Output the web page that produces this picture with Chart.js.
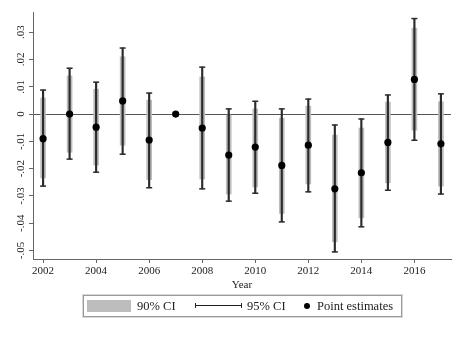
<!DOCTYPE html>
<html lang="en">
<head>
  <meta charset="UTF-8">
  <title>Event study estimates</title>
  <script src="https://cdn.jsdelivr.net/npm/chart.js"></script>
  <style>
    body {
      margin: 0;
      background: #fff;
      font-family: 'Liberation Serif', 'Times New Roman', serif;
    }

    .wrap {
      position: relative;
      width: 463px;
      height: 337px;
    }

    .legend-box {
      position: absolute;
      left: 83px;
      top: 295px;
      width: 317px;
      height: 20px;
      border: 1px solid #9a9a9a;
      box-shadow: 0 0 0 1px #d8d8d8;
    }

    .lg {
      position: absolute;
      font-size: 12.5px;
      color: #222;
      line-height: 14px;
    }
  </style>
</head>
<body>
  <div class="wrap">
    <canvas id="ciChart"></canvas>
    <div class="legend-box"></div>
    <div class="lg" style="left:87px;top:300px;width:44px;height:12px;background:#bdbdbd;"></div>
    <div class="lg" style="left:137px;top:299px;">90% CI</div>
    <div class="lg" style="left:195px;top:303px;width:47px;height:5px;border-left:1px solid #222;border-right:1px solid #222;box-sizing:border-box;">
      <div style="margin-top:2px;height:1px;background:#222;"></div>
    </div>
    <div class="lg" style="left:247px;top:299px;">95% CI</div>
    <div class="lg" style="left:304px;top:303px;width:6px;height:6px;border-radius:50%;background:#000;"></div>
    <div class="lg" style="left:317px;top:299px;">Point estimates</div>
  </div>

  <script>
    // values (2007 is the omitted base year)
    const years = [2002, 2003, 2004, 2005, 2006, 2007, 2008, 2009, 2010, 2011, 2012, 2013, 2014, 2015, 2016, 2017];
    const estimates = [-0.009, 0, -0.0048, 0.0048, -0.0095, 0, -0.0051, -0.015, -0.0121, -0.0188, -0.0114, -0.0274, -0.0215, -0.0104, 0.0127, -0.0109];
    const ci95Low = [-0.0264, -0.0165, -0.0213, -0.0147, -0.027, null, -0.0274, -0.0319, -0.029, -0.0395, -0.0285, -0.0505, -0.0413, -0.0279, -0.0096, -0.0293];
    const ci95High = [0.0088, 0.0168, 0.0117, 0.0242, 0.0077, null, 0.0172, 0.0019, 0.0047, 0.0019, 0.0055, -0.004, -0.0018, 0.007, 0.035, 0.0074];
    const ci90Low = [-0.0234, -0.014, -0.0187, -0.0114, -0.024, null, -0.0238, -0.0293, -0.0267, -0.0364, -0.0256, -0.0468, -0.038, -0.0252, -0.0059, -0.0264];
    const ci90High = [0.0059, 0.014, 0.0091, 0.021, 0.0051, null, 0.0136, -0.0004, 0.0019, -0.0015, 0.0029, -0.0077, -0.0051, 0.0044, 0.0315, 0.0045];

    const xTicks = [2002, 2004, 2006, 2008, 2010, 2012, 2014, 2016];
    const yTicks = [0.03, 0.02, 0.01, 0, -0.01, -0.02, -0.03, -0.04, -0.05];

    const hasCI = (i) => ci95Low[i] !== null;

    const band90 = years.map((x, i) => hasCI(i) ? { x: x, y: [ci90Low[i], ci90High[i]] } : null).filter(Boolean);
    const band95 = years.map((x, i) => hasCI(i) ? { x: x, y: [ci95Low[i], ci95High[i]] } : null).filter(Boolean);
    const caps95 = [];
    years.forEach((x, i) => {
      if (hasCI(i)) {
        caps95.push({ x: x, y: ci95Low[i] });
        caps95.push({ x: x, y: ci95High[i] });
      }
    });
    const points = years.map((x, i) => ({ x: x, y: estimates[i] }));

    // Stata-style labels: .03, -.01, 0
    const fmt = (v) => {
      if (Math.abs(v) < 1e-9) return '0';
      return v.toFixed(2).replace('0.', '.');
    };

    const axisGrey = '#666';
    const font = { family: "'Liberation Serif', 'Times New Roman', serif", size: 11 };

    const config = {
      type: 'bar',
      data: {
        datasets: [
          {
            label: '90% CI',
            data: band90,
            backgroundColor: '#bdbdbd',
            barThickness: 5,
            grouped: false,
            borderWidth: 0,
            order: 4
          },
          {
            label: '95% CI',
            data: band95,
            backgroundColor: '#2b2b2b',
            barThickness: 1.5,
            grouped: false,
            borderWidth: 0,
            order: 3
          },
          {
            type: 'scatter',
            label: 'caps',
            data: caps95,
            pointStyle: 'line',
            pointRadius: 3,
            borderColor: '#2b2b2b',
            borderWidth: 1.5,
            order: 2
          },
          {
            type: 'scatter',
            label: 'Point estimates',
            data: points,
            pointRadius: 3.6,
            backgroundColor: '#000',
            borderColor: '#000',
            borderWidth: 0,
            order: 1
          }
        ]
      },
      options: {
        responsive: true,
        maintainAspectRatio: false,
        animation: false,
        layout: { padding: { top: 12, right: 12, left: 0, bottom: 45 } },
        plugins: {
          legend: { display: false },
          tooltip: { enabled: false }
        },
        scales: {
          x: {
            type: 'linear',
            min: 2001.62,
            max: 2017.38,
            offset: false,
            afterBuildTicks: (scale) => { scale.ticks = xTicks.map(v => ({ value: v })); },
            afterFit: (scale) => { scale.height = 33; },
            grid: {
              offset: false,
              drawOnChartArea: false,
              tickLength: 4,
              tickColor: axisGrey
            },
            border: { color: axisGrey, width: 1 },
            ticks: {
              color: '#222',
              font: font,
              padding: 2,
              maxRotation: 0,
              autoSkip: false,
              callback: (v) => String(v)
            },
            title: {
              display: true,
              text: 'Year',
              color: '#222',
              font: font,
              padding: 0
            }
          },
          y: {
            type: 'linear',
            min: -0.0531,
            max: 0.0374,
            afterBuildTicks: (scale) => { scale.ticks = yTicks.map(v => ({ value: v })); },
            afterFit: (scale) => { scale.width = 33; },
            grid: {
              color: (ctx) => (ctx.tick && Math.abs(ctx.tick.value) < 1e-9) ? '#555' : 'rgba(0,0,0,0)',
              lineWidth: 1,
              tickLength: 4,
              tickColor: axisGrey
            },
            border: { color: axisGrey, width: 1 },
            ticks: {
              color: '#222',
              font: font,
              padding: -1,
              minRotation: 90,
              maxRotation: 90,
              crossAlign: 'center',
              autoSkip: false,
              callback: (v) => fmt(v)
            }
          }
        }
      }
    };

    const ctx = document.getElementById('ciChart').getContext('2d');
    const chart = new Chart(ctx, config);
  </script>
</body>
</html>
